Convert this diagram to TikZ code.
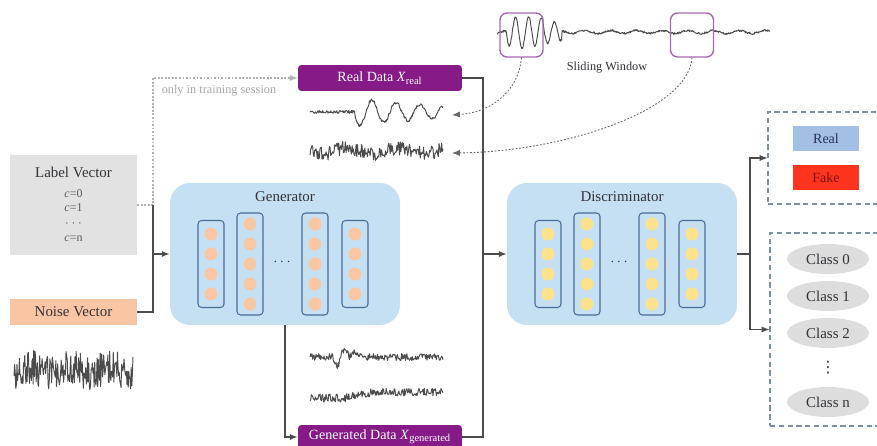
\documentclass[tikz,border=0pt]{standalone}
\usepackage{fontspec}
\setmainfont{Liberation Serif}
\newfontfamily\symfont{DejaVu Sans}
\usepackage{tikz}
\usetikzlibrary{arrows.meta,shapes.geometric,calc}

\definecolor{labelgray}{RGB}{226,226,226}
\definecolor{noiseorange}{RGB}{249,197,162}
\definecolor{netblue}{RGB}{197,223,243}
\definecolor{colblue}{RGB}{72,108,148}
\definecolor{nodepeach}{RGB}{250,199,163}
\definecolor{nodeyellow}{RGB}{253,226,140}
\definecolor{datapurple}{RGB}{134,26,134}
\definecolor{winpurple}{RGB}{165,105,175}
\definecolor{realblue}{RGB}{163,192,228}
\definecolor{fakered}{RGB}{254,52,30}
\definecolor{classgray}{RGB}{221,221,221}
\definecolor{boxframe}{RGB}{125,145,165}
\definecolor{txt}{RGB}{50,50,55}

\tikzset{net/.style={
         fill=netblue,rounded corners=0.4cm,minimum width=4.6cm,minimum height=2.84cm,inner sep=0pt}}
\tikzset{netlayer/.style={
         draw=colblue,fill=netblue,line width=0.6pt,rounded corners=2pt,minimum width=0.52cm,minimum height=#1,inner sep=0pt}}
\tikzset{neuron/.style={
         circle,fill=#1,minimum size=0.26cm,inner sep=0pt}}
\tikzset{databox/.style={
         fill=datapurple,text=white,rounded corners=2pt,minimum width=3.28cm,inner sep=0pt}}
\tikzset{wave/.style={
         draw=black!70,line width=0.55pt,line join=round}}

\begin{document}
\begin{tikzpicture}[x=0.02cm,y=-0.02cm,>={Latex[length=4.5pt,width=3.5pt]},
font=\fontsize{8}{9.6}\selectfont,
link/.style={draw=black!70,line width=0.6pt},
train/.style={draw=black!30,line width=0.6pt,dash pattern=on 1pt off 1pt,->},
win/.style={draw=black!60,line width=0.5pt,dash pattern=on 1pt off 1pt,->},
outbox/.style={draw=boxframe,line width=0.6pt,dash pattern=on 3pt off 2pt,inner sep=0pt},
klass/.style={ellipse,fill=classgray,minimum width=1.64cm,minimum height=0.6cm,inner sep=0pt,
              text=txt,font=\fontsize{8.5}{10}\selectfont}]

\clip (0,0) rectangle (877,446);

% 输入
\node (label) at (73.5,205) [fill=labelgray,minimum width=2.54cm,minimum height=2cm,inner sep=0pt] {};
\node (labeltitle) at (73.5,172) [text=txt,font=\fontsize{8.5}{10}\selectfont] {Label Vector};
\node (labelc) at (73.5,215.5) [text=txt!80,align=center,font=\fontsize{6.8}{8.5}\selectfont]
      {\textit{c}=0\\ \textit{c}=1\\ $\cdots$\\ \textit{c}=n};
\node (noise) at (73.5,312) [fill=noiseorange,minimum width=2.54cm,minimum height=0.52cm,inner sep=0pt,
      text=txt,font=\fontsize{8.5}{10}\selectfont] {Noise Vector};
\pgfmathsetseed{7}
\draw[wave] plot[domain=14:133,samples=200] (\x,{370+17*rand+3*sin(9*\x)});

% 长序列与滑动窗口
\pgfmathsetseed{3}
\draw[wave] plot[domain=497:770,samples=500]
      (\x,{32+1*rand+1.5*sin(14*\x)+(\x>506)*(\x<562)*15*sin(28*(\x-506))*(1-0.35*(\x>545))});
\node (w1) at (521.5,35) [draw=winpurple,line width=0.8pt,rounded corners=4pt,minimum width=0.86cm,minimum height=0.88cm,inner sep=0pt] {};
\node (w2) at (692,35) [draw=winpurple,line width=0.8pt,rounded corners=4pt,minimum width=0.86cm,minimum height=0.88cm,inner sep=0pt] {};
\node (slide) at (607,68) [text=txt,font=\fontsize{7}{8}\selectfont] {Sliding Window};

% 真实数据
\node (real) at (380,78) [databox,minimum height=0.52cm] {Real Data \textit{X}\textsubscript{real}};
\node (train-note) at (219,91) [text=black!35,font=\fontsize{7}{8}\selectfont] {only in training session};
\pgfmathsetseed{11}
\draw[wave] plot[domain=310:443,samples=200]
      (\x,{112+1.6*rand+(\x>354)*14*exp(-(\x-354)/110)*sin(15*(\x-354))});
\draw[wave] plot[domain=310:443,samples=200] (\x,{151+7*rand+3*sin(7*\x)});
\coordinate (tip1) at (452,115);
\coordinate (tip2) at (452,153);

% 生成数据
\node (gend) at (380,437) [databox,minimum height=0.48cm] {Generated Data \textit{X}\textsubscript{generated}};
\pgfmathsetseed{5}
\draw[wave] plot[domain=310:443,samples=200]
      (\x,{357+3.5*rand+(\x>333)*(\x<349)*9*sin(22.5*(\x-333))-(\x>349)*(\x<362)*4*sin(13.8*(\x-349))});
\draw[wave] plot[domain=310:443,samples=200] (\x,{398+4*rand-6*min(1,max(0,(\x-345)/30))});

% 生成器, 判别器
\node (gen) at (285,254) [net] {};
\node (disc) at (622,254) [net] {};
\node (gen-title) at (285,197) [text=txt,font=\fontsize{8.5}{10}\selectfont] {Generator};
\node (disc-title) at (622,197) [text=txt,font=\fontsize{8.5}{10}\selectfont] {Discriminator};
\foreach \net/\mx/\col in {gen/285/nodepeach,disc/622/nodeyellow} {
  \foreach \dx/\n [count=\k] in {-74/4,-35/5,30/5,70/4} {
    \node (\net-l\k) at ({\mx+(\dx)},264) [netlayer=\n*0.3cm+0.54cm] {};
    \foreach \i in {1,...,\n}
      \node (\net-l\k-\i) at ({\mx+(\dx)},{264+(\i-(\n+1)/2)*20}) [neuron=\col] {};
  }
  \node (\net-dots) at ({\mx-3},262) [text=txt] {$\cdots$};
}

% 输出
\node (rf) at (827,158) [outbox,minimum width=2.36cm,minimum height=1.84cm] {};
\node (realout) at (826,138.5) [fill=realblue,minimum width=1.32cm,minimum height=0.5cm,inner sep=0pt,text={rgb,255:red,40;green,50;blue,90}] {Real};
\node (fakeout) at (826,177.5) [fill=fakered,minimum width=1.32cm,minimum height=0.5cm,inner sep=0pt,text={rgb,255:red,120;green,20;blue,20}] {Fake};
\node (cls) at (828,329.5) [outbox,minimum width=2.32cm,minimum height=3.86cm] {};
\foreach \y/\c [count=\k] in {259/0,296/1,333/2,402/n} {\node (cls\k) at (828,\y) [klass] {Class \c};}
\node (clsdots) at (828,368) [text=txt,inner sep=0pt,font=\symfont\fontsize{9}{10}\selectfont] {⋮};

% 连线
\coordinate (jl) at (153,205);
\coordinate (jg) at (153,254);
\coordinate (jd) at (483,254);
\coordinate (jo) at (750,254);
\draw[train] (label.east) -- (jl) |- (real.west);
\draw[link] (noise.east) -| (jl);
\draw[link,->] (jg) -- (gen.west);
\draw[link,->] (gen.south) |- (gend.west);
\draw[link] (real.east) -| (jd) |- (gend.east);
\draw[link,->] (jd) -- (disc.west);
\draw[link] (disc.east) -- (jo);
\draw[link,->] (jo) |- (rf.west);
\draw[link,->] (jo) |- (cls.west);
\draw[win] (w1.south) .. controls (519,88) and (495,112) .. (tip1);
\draw[win] (w2.south) .. controls (688,112) and (560,152) .. (tip2);

\end{tikzpicture}
\end{document}
